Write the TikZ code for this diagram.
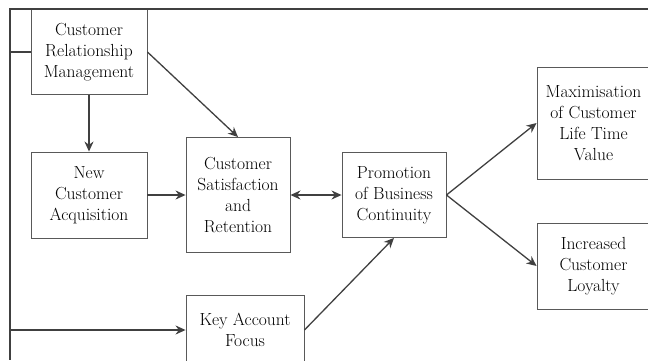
\documentclass[tikz,border=0pt]{standalone}
\usetikzlibrary{arrows.meta}
\begin{document}
\begin{tikzpicture}[x=1pt, y=-1pt,
    box/.style={draw=black!65, line width=0.9pt, inner sep=0pt, align=center,
      font=\fontsize{17.5}{21}\selectfont},
    link/.style={draw=black!75, line width=1.3pt},
    tip/.style={-{Stealth[length=10pt, width=9pt]}}]
      \useasboundingbox (0,0) rectangle (648,360);
      \clip (0,0) rectangle (648,360);
      % Nodes
      \node[box, minimum width=116pt, minimum height=85pt] at (89, 52) (crm) {Customer\\Relationship\\Management};
      \node[box, minimum width=116pt, minimum height=86pt] at (89, 195) (nca) {New\\Customer\\Acquisition};
      \node[box, minimum width=104pt, minimum height=115pt] at (238, 195) (csr) {Customer\\Satisfaction\\and\\Retention};
      \node[box, minimum width=104pt, minimum height=85pt] at (394, 195) (pbc) {Promotion\\of Business\\Continuity};
      \node[box, minimum width=113pt, minimum height=112pt] at (593.5, 123) (max) {Maximisation\\of Customer\\Life Time\\Value};
      \node[box, minimum width=113pt, minimum height=86pt] at (593.5, 266) (icl) {Increased\\Customer\\Loyalty};
      \node[box, minimum width=118pt, minimum height=70pt] at (245, 330) (kaf) {Key Account\\Focus};

      % Frame
      \coordinate (tl) at (10, 9);
      \coordinate (tr) at (648, 9);
      \coordinate (bl) at (10, 360);
      \draw[link] (tr) -- (tl) -- (bl);
      \draw[link] (crm.west) -- (crm.west -| tl);
      \draw[link, tip] (kaf.west -| tl) -- (kaf.west);

      % Links
      \draw[link, tip] (crm.south) -- (nca.north);
      \draw[link, tip] (crm.east) -- (csr.north);
      \draw[link, tip] (nca.east) -- (csr.west);
      \draw[link, {Stealth[length=10pt, width=9pt]}-{Stealth[length=10pt, width=9pt]}] (csr.east) -- (pbc.west);
      \draw[link, tip] (kaf.east) -- (pbc.south);
      \draw[link, tip] (pbc.east) -- (max.west);
      \draw[link, tip] (pbc.east) -- (icl.west);
    \end{tikzpicture}
\end{document}
